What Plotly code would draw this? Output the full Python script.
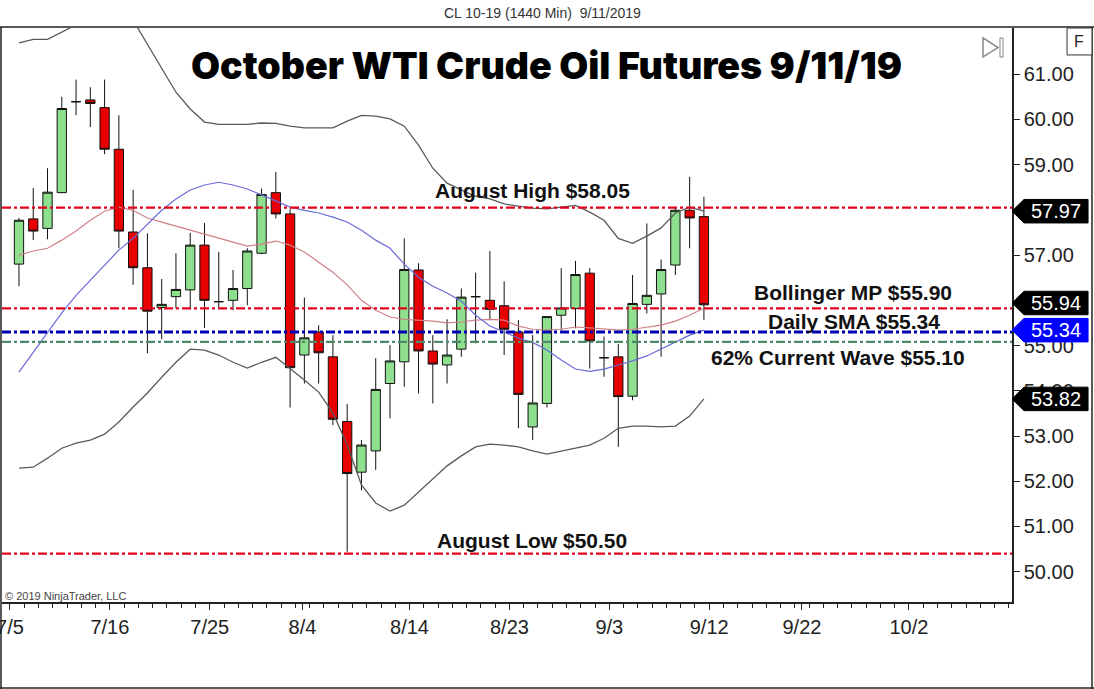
import plotly.graph_objects as go
import pandas as pd

# ---------------- data ----------------
bar_dates = [
    "2019-07-05", "2019-07-08", "2019-07-09", "2019-07-10", "2019-07-11", "2019-07-12",
    "2019-07-15", "2019-07-16", "2019-07-17", "2019-07-18", "2019-07-19",
    "2019-07-22", "2019-07-23", "2019-07-24", "2019-07-25", "2019-07-26",
    "2019-07-29", "2019-07-30", "2019-07-31", "2019-08-01", "2019-08-02",
    "2019-08-05", "2019-08-06", "2019-08-07", "2019-08-08", "2019-08-09",
    "2019-08-12", "2019-08-13", "2019-08-14", "2019-08-15", "2019-08-16",
    "2019-08-19", "2019-08-20", "2019-08-21", "2019-08-22", "2019-08-23",
    "2019-08-26", "2019-08-27", "2019-08-28", "2019-08-29", "2019-08-30",
    "2019-09-02", "2019-09-03", "2019-09-04", "2019-09-05", "2019-09-06",
    "2019-09-09", "2019-09-10", "2019-09-11",
]
opens = [56.80, 57.80, 57.59, 58.38, 60.39, 60.43, 60.26, 59.34, 57.51, 56.72,
         55.84, 56.08, 56.23, 57.22, 55.97, 56.00, 56.26, 57.04, 58.38, 57.91,
         54.79, 55.30, 54.75, 53.32, 52.20, 52.67, 54.16, 54.64, 56.67, 54.88,
         54.57, 54.92, 56.08, 56.00, 55.88, 55.30, 53.20, 53.72, 55.67, 55.82,
         56.60, 54.73, 54.75, 53.88, 55.91, 56.14, 56.78, 57.99, 57.85]
highs = [57.82, 58.48, 58.92, 60.50, 60.88, 60.71, 60.88, 60.09, 58.44, 57.48,
         56.47, 57.04, 57.49, 57.71, 57.07, 56.67, 57.15, 58.47, 58.84, 58.03,
         56.06, 55.45, 55.23, 53.71, 52.91, 54.72, 55.01, 57.37, 56.82, 55.23,
         55.58, 56.26, 56.61, 57.09, 56.42, 55.56, 55.23, 55.65, 56.71, 56.87,
         56.71, 55.20, 55.03, 56.56, 57.70, 56.90, 58.06, 58.73, 58.29]
lows = [56.31, 57.33, 57.35, 58.37, 60.09, 59.83, 59.23, 57.15, 56.34, 54.83,
        55.14, 55.82, 55.80, 55.39, 55.84, 55.78, 55.89, 57.02, 57.81, 53.63,
        54.16, 54.16, 53.24, 50.44, 51.80, 52.25, 53.39, 54.09, 53.94, 53.72,
        54.16, 54.75, 55.05, 55.56, 54.79, 53.17, 52.91, 53.63, 55.34, 55.38,
        54.49, 54.31, 52.76, 53.79, 55.71, 54.75, 56.56, 57.15, 55.56]
closes = [57.77, 57.53, 58.39, 60.24, 60.39, 60.35, 59.34, 57.53, 56.72, 55.76,
          55.91, 56.24, 57.22, 56.00, 55.97, 56.26, 57.09, 58.34, 57.91, 54.51,
          55.17, 54.84, 53.37, 52.17, 52.80, 54.03, 54.66, 56.68, 54.88, 54.59,
          54.79, 56.07, 56.08, 55.80, 55.36, 53.92, 53.73, 55.64, 55.83, 56.57,
          55.10, 54.73, 53.87, 55.93, 56.11, 56.68, 57.99, 57.82, 55.90]

bb_upper = [61.69, 61.77, 61.77, 61.93, 62.10, 62.25, 62.30, 62.30, 62.19, 61.66,
            61.11, 60.60, 60.23, 59.94, 59.89, 59.89, 59.89, 59.92, 59.91, 59.85,
            59.81, 59.81, 59.81, 59.96, 60.09, 60.07, 60.01, 59.85, 59.43, 58.92,
            58.59, 58.44, 58.30, 58.24, 58.13, 58.08, 58.04, 58.02, 58.06, 58.10,
            57.95, 57.77, 57.37, 57.26, 57.42, 57.60, 57.93, 58.06, 57.97]
bb_mid = [57.00, 57.09, 57.15, 57.33, 57.53, 57.77, 57.97, 58.06, 57.99, 57.82,
          57.73, 57.64, 57.55, 57.46, 57.37, 57.29, 57.20, 57.24, 57.31, 57.22,
          57.07, 56.84, 56.62, 56.34, 56.00, 55.78, 55.63, 55.58, 55.56, 55.54,
          55.50, 55.52, 55.56, 55.58, 55.56, 55.43, 55.36, 55.34, 55.36, 55.41,
          55.39, 55.36, 55.34, 55.36, 55.41, 55.45, 55.54, 55.67, 55.83]
bb_lower = [52.29, 52.31, 52.51, 52.73, 52.84, 52.91, 53.04, 53.31, 53.64, 53.95,
            54.30, 54.63, 54.92, 54.90, 54.79, 54.63, 54.50, 54.63, 54.74, 54.50,
            54.24, 53.97, 53.51, 52.80, 51.92, 51.52, 51.34, 51.47, 51.76, 52.03,
            52.34, 52.56, 52.76, 52.82, 52.80, 52.76, 52.67, 52.60, 52.67, 52.73,
            52.80, 52.95, 53.17, 53.22, 53.22, 53.20, 53.22, 53.44, 53.82]
sma = [54.41, 54.85, 55.30, 55.72, 56.11, 56.45, 56.78, 57.11, 57.37, 57.68,
       57.99, 58.24, 58.44, 58.55, 58.61, 58.55, 58.46, 58.33, 58.19, 58.06,
       57.99, 57.93, 57.84, 57.73, 57.55, 57.33, 57.15, 56.80, 56.51, 56.31,
       56.16, 55.98, 55.67, 55.43, 55.30, 55.16, 55.07, 54.90, 54.68, 54.48,
       54.43, 54.48, 54.57, 54.66, 54.77, 54.92, 55.08, 55.23, 55.34]

tick_labels = ["7/5", "7/16", "7/25", "8/4", "8/14", "8/23", "9/3", "9/12", "9/22", "10/2"]
y_tick_values = [50, 51, 52, 53, 54, 55, 56, 57, 58, 59, 60, 61]

level_values = [58.05, 55.82, 55.30, 55.08, 50.40]
level_colors = ["#E3001B", "#E3001B", "#0000B4", "#4E8A6A", "#E3001B"]
level_texts = ["August High $58.05", "Bollinger MP $55.90", "Daily SMA $55.34",
               "62% Current Wave $55.10", "August Low $50.50"]

tag_values = [57.97, 55.94, 55.34, 53.82]
tag_colors = ["#000000", "#000000", "#0000FF", "#000000"]

# --------------- geometry helpers ---------------
TICK_OFFSET = 0.63
x_idx = list(range(len(bar_dates)))
sessions = list(pd.to_datetime(bar_dates)) + list(pd.bdate_range("2019-09-12", "2019-10-31"))


def label_pos(lbl):
    m, d = lbl.split("/")
    dt = pd.Timestamp(2019, int(m), int(d))
    if dt in sessions:
        return sessions.index(dt) - TICK_OFFSET
    nxt = next(i for i, s in enumerate(sessions) if s > dt)
    return nxt - 0.5 - TICK_OFFSET


tick_pos = [label_pos(t) for t in tick_labels]

# tick labels fully covered by price tags in the reference are left blank
covered = {56, 58}
y_tick_text = ["" if v in covered else "%.2f" % v for v in y_tick_values]

X_RANGE = [-1.19, 69.59]
Y_RANGE = [49.33, 62.02]

fig = go.Figure()

fig.add_trace(go.Scatter(x=x_idx, y=bb_upper, mode="lines",
                         line=dict(color="#5a5a5a", width=1.3), hoverinfo="skip"))
fig.add_trace(go.Scatter(x=x_idx, y=bb_lower, mode="lines",
                         line=dict(color="#5a5a5a", width=1.3), hoverinfo="skip"))
fig.add_trace(go.Scatter(x=x_idx, y=bb_mid, mode="lines",
                         line=dict(color="#D08088", width=1.2), hoverinfo="skip"))
fig.add_trace(go.Scatter(x=x_idx, y=sma, mode="lines",
                         line=dict(color="#6A6AD8", width=1.2), hoverinfo="skip"))

fig.add_trace(go.Candlestick(
    x=x_idx, open=opens, high=highs, low=lows, close=closes,
    increasing=dict(fillcolor="#8EE08E", line=dict(color="#111111", width=1)),
    decreasing=dict(fillcolor="#E80000", line=dict(color="#111111", width=1)),
    whiskerwidth=0,
))

shapes = []
annotations = []

# level lines + labels
label_x = [532, 853, 854, 838, 532]
label_shift = [17, 16, 10, -16, 13]
for v, c, t, lx, ys in zip(level_values, level_colors, level_texts, label_x, label_shift):
    w = 3 if c == "#0000B4" else 2.2
    shapes.append(dict(type="line", xref="paper", yref="y", x0=0, x1=1, y0=v, y1=v,
                       line=dict(color=c, width=w, dash="9px,3px,3px,3px"), layer="above"))
    annotations.append(dict(text="<b>%s</b>" % t, xref="paper", yref="y",
                            x=(lx - 2) / 1010, y=v, yshift=ys, showarrow=False,
                            xanchor="center", yanchor="middle",
                            font=dict(family="Liberation Sans, Arial", size=21, color="#111111")))

# price tags on the right axis
HALF = 0.26
for v, c in zip(tag_values, tag_colors):
    path = "M 1.0,{m} L 1.0119,{t} L 1.0753,{t} L 1.0753,{b} L 1.0119,{b} Z".format(
        m=v, t=v + HALF, b=v - HALF)
    shapes.append(dict(type="path", xref="paper", yref="y", path=path,
                       fillcolor=c, line=dict(color=c, width=1), layer="above"))
    annotations.append(dict(text="%.2f" % v, xref="paper", yref="y", x=1.0436, y=v,
                            showarrow=False, xanchor="center", yanchor="middle",
                            font=dict(family="Liberation Sans, Arial", size=20, color="white")))

# outer frame
shapes += [
    dict(type="line", xref="paper", yref="paper", x0=-0.002, x1=1.082, y0=1.0017, y1=1.0017,
         line=dict(color="#222", width=1.5)),
    dict(type="line", xref="paper", yref="paper", x0=-0.001, x1=-0.001, y0=1.0017, y1=-0.152,
         line=dict(color="#222", width=1.5)),
    dict(type="line", xref="paper", yref="paper", x0=1.0792, x1=1.0792, y0=1.0017, y1=-0.152,
         line=dict(color="#222", width=1.5)),
    dict(type="line", xref="paper", yref="paper", x0=-0.002, x1=1.082, y0=-0.1498, y1=-0.1498,
         line=dict(color="#222", width=1.5)),
    # F box
    dict(type="rect", xref="paper", yref="paper", x0=1.0545, x1=1.0792, y0=1.0, y1=0.953,
         line=dict(color="#333", width=1), fillcolor="white"),
    # play-to-end icon
    dict(type="path", xref="paper", yref="paper",
         path="M 0.9713,0.9826 L 0.9861,0.9660 L 0.9713,0.9495 Z",
         line=dict(color="#888", width=1.5)),
    dict(type="rect", xref="paper", yref="paper", x0=0.9881, x1=0.9911, y0=0.9826, y1=0.9495,
         line=dict(color="#888", width=1)),
]

annotations += [
    dict(text="F", xref="paper", yref="paper", x=1.0668, y=0.9765, showarrow=False,
         xanchor="center", yanchor="middle",
         font=dict(family="Liberation Sans, Arial", size=16, color="#222")),
    dict(text="CL 10-19 (1440 Min)  9/11/2019", xref="paper", yref="paper", x=0.5356, y=1.0253,
         showarrow=False, xanchor="center", yanchor="middle",
         font=dict(family="Liberation Sans, Arial", size=14, color="#333")),
    dict(text="October WTI Crude Oil Futures 9/11/19", xref="paper", yref="paper",
         x=0.5393, y=0.934, showarrow=False, xanchor="center", yanchor="middle",
         font=dict(family="Inter, DejaVu Sans, sans-serif", size=37.5, color="#000", weight=900)),
    dict(text="© 2019 NinjaTrader, LLC", xref="paper", yref="paper", x=0.001, y=0.01,
         showarrow=False, xanchor="left", yanchor="middle",
         font=dict(family="Liberation Sans, Arial", size=11, color="#444")),
]

fig.update_layout(
    width=1094, height=689,
    margin=dict(l=2, r=82, t=28, b=87, autoexpand=False),
    paper_bgcolor="white", plot_bgcolor="white",
    showlegend=False,
    boxgap=0.35, boxgroupgap=0,
    shapes=shapes, annotations=annotations,
    xaxis=dict(range=X_RANGE, showgrid=False, zeroline=False, rangeslider=dict(visible=False),
               showline=True, linecolor="#222", linewidth=1.5,
               tickmode="array", tickvals=tick_pos, ticktext=tick_labels,
               ticks="outside", ticklen=6, tickcolor="#222", ticklabeloverflow="allow",
               minor=dict(ticks="outside", ticklen=4, tick0=-TICK_OFFSET, dtick=1, tickcolor="#222"),
               tickfont=dict(family="Liberation Sans, Arial", size=20, color="#222"),
               fixedrange=True),
    yaxis=dict(range=Y_RANGE, side="right", showgrid=False, zeroline=False,
               showline=True, linecolor="#222", linewidth=1.5,
               tickmode="array", tickvals=y_tick_values, ticktext=y_tick_text,
               ticks="outside", ticklen=6, tickcolor="#222",
               tickfont=dict(family="Liberation Sans, Arial", size=20, color="#222"),
               fixedrange=True),
)

fig.write_html("out.html")
